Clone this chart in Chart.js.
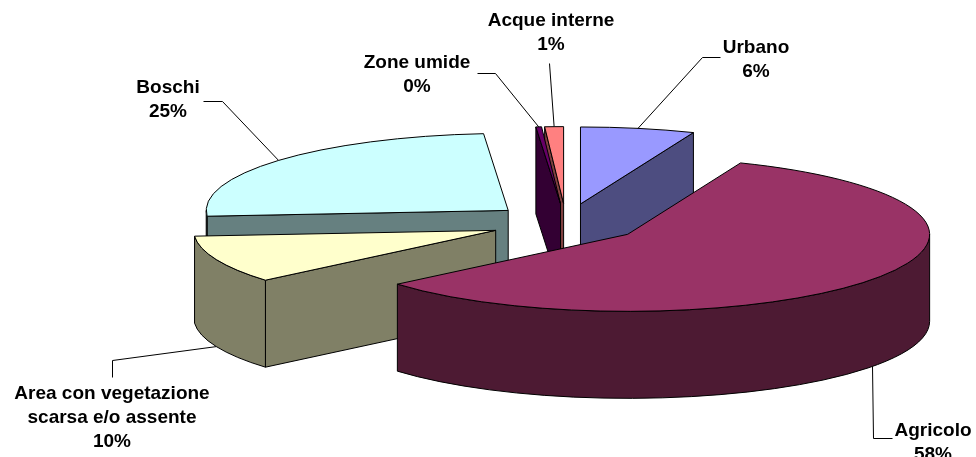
<!DOCTYPE html>
<html>
<head>
<meta charset="utf-8">
<script src="https://cdn.jsdelivr.net/npm/chart.js@4.4.1/dist/chart.umd.min.js"></script>
<style>
  html, body { margin: 0; padding: 0; background: #ffffff; }
  canvas { display: block; }
</style>
</head>
<body>
<canvas id="chart" width="976" height="457"></canvas>
<script>
// Land use shares (%)
const categories = ['Urbano', 'Agricolo', ['Area con vegetazione', 'scarsa e/o assente'], 'Boschi', 'Zone umide', 'Acque interne'];
const shares = [6.1, 57.7, 10.0, 24.9, 0.3, 1.0];
const topColors = ['#9999FF', '#993366', '#FFFFCC', '#CCFFFF', '#660066', '#FF8080'];
const sideColors = ['#4D4D80', '#4D1A33', '#808066', '#668080', '#330033', '#804040'];

// Projection of the pie into a tilted, extruded disc (pixels)
const view = { radiusX: 302, radiusY: 77, depth: 87, explode: 76 };

// Label text position and the leader path from the label toward the slice
const labelLayout = [
  { x: 756, y: 48,  leader: [[720, 57], [702, 57]] },
  { x: 933, y: 431, leader: [[892, 438], [873, 438]] },
  { x: 112, y: 394, leader: [[112, 377], [112, 360]] },
  { x: 168, y: 88,  leader: [[203, 101], [222, 101]] },
  { x: 417, y: 63,  leader: [[477, 73], [495, 73]] },
  { x: 551, y: 21,  leader: [[549, 63]] }
];
const lineHeight = 24;
const labelFont = 'bold 19px "Liberation Sans", Arial, sans-serif';

function sliceGeometry(arc) {
  const p = arc.getProps(['x', 'y', 'startAngle', 'endAngle', 'outerRadius'], true);
  const k = view.radiusY / view.radiusX;
  const mid = (p.startAngle + p.endAngle) / 2;
  return {
    cx: p.x + view.explode * Math.cos(mid),
    cy: p.y + view.explode * k * Math.sin(mid),
    rx: view.radiusX,
    ry: view.radiusY,
    a0: p.startAngle,
    a1: p.endAngle,
    mid: mid
  };
}

function drawSlice(ctx, g, top, side) {
  const H = view.depth;
  ctx.lineWidth = 1;
  ctx.strokeStyle = '#000000';
  ctx.lineJoin = 'round';

  const cutFace = (a) => {
    const px = g.cx + g.rx * Math.cos(a);
    const py = g.cy + g.ry * Math.sin(a);
    ctx.beginPath();
    ctx.moveTo(g.cx, g.cy);
    ctx.lineTo(px, py);
    ctx.lineTo(px, py + H);
    ctx.lineTo(g.cx, g.cy + H);
    ctx.closePath();
    ctx.fillStyle = side;
    ctx.fill();
    ctx.stroke();
  };
  // radial faces turned toward the viewer
  if (Math.cos(g.a0) < -1e-6) cutFace(g.a0);
  if (Math.cos(g.a1) > 1e-6) cutFace(g.a1);

  // outer wall: only the front half of the rim is visible
  for (let k = -1; k <= 1; k++) {
    const lo = Math.max(g.a0, 2 * Math.PI * k);
    const hi = Math.min(g.a1, 2 * Math.PI * k + Math.PI);
    if (hi - lo <= 1e-6) continue;
    ctx.beginPath();
    ctx.ellipse(g.cx, g.cy, g.rx, g.ry, 0, lo, hi, false);
    ctx.lineTo(g.cx + g.rx * Math.cos(hi), g.cy + g.ry * Math.sin(hi) + H);
    ctx.ellipse(g.cx, g.cy + H, g.rx, g.ry, 0, hi, lo, true);
    ctx.closePath();
    ctx.fillStyle = side;
    ctx.fill();
    ctx.stroke();
  }

  // top face
  ctx.beginPath();
  ctx.moveTo(g.cx, g.cy);
  ctx.ellipse(g.cx, g.cy, g.rx, g.ry, 0, g.a0, g.a1, false);
  ctx.closePath();
  ctx.fillStyle = top;
  ctx.fill();
  ctx.stroke();
}

const pie3d = {
  id: 'pie3d',
  beforeDatasetsDraw(chart) {
    const ctx = chart.ctx;
    const meta = chart.getDatasetMeta(0);
    const slices = meta.data.map((arc, i) => ({ i, g: sliceGeometry(arc) }));
    // paint back slices first
    slices.sort((a, b) => a.g.cy - b.g.cy);
    ctx.save();
    slices.forEach(s => drawSlice(ctx, s.g, topColors[s.i], sideColors[s.i]));
    ctx.restore();
    return false;
  },
  afterDraw(chart) {
    const ctx = chart.ctx;
    const meta = chart.getDatasetMeta(0);
    const total = shares.reduce((a, b) => a + b, 0);
    ctx.save();
    meta.data.forEach((arc, i) => {
      const g = sliceGeometry(arc);
      const front = Math.sin(g.mid) > 0;
      const ax = g.cx + g.rx * Math.cos(g.mid);
      const ay = g.cy + g.ry * Math.sin(g.mid) + (front ? view.depth : 0);
      const lay = labelLayout[i];

      ctx.beginPath();
      ctx.moveTo(lay.leader[0][0] + 0.5, lay.leader[0][1] + 0.5);
      for (let j = 1; j < lay.leader.length; j++) ctx.lineTo(lay.leader[j][0] + 0.5, lay.leader[j][1] + 0.5);
      ctx.lineTo(ax, ay);
      ctx.lineWidth = 1;
      ctx.strokeStyle = '#000000';
      ctx.stroke();

      const name = categories[i];
      const lines = (Array.isArray(name) ? name.slice() : [name]);
      lines.push(Math.round(shares[i] / total * 100) + '%');
      ctx.font = labelFont;
      ctx.fillStyle = '#000000';
      ctx.textAlign = 'center';
      ctx.textBaseline = 'middle';
      lines.forEach((t, j) => ctx.fillText(t, lay.x, lay.y + j * lineHeight));
    });
    ctx.restore();
  }
};

new Chart(document.getElementById('chart'), {
  type: 'pie',
  data: {
    labels: categories,
    datasets: [{
      data: shares,
      backgroundColor: topColors,
      borderWidth: 0,
      hoverOffset: 0
    }]
  },
  options: {
    responsive: false,
    animation: false,
    devicePixelRatio: 1,
    layout: { padding: { left: 156, right: 0, top: 0, bottom: 11 } },
    plugins: {
      legend: { display: false },
      tooltip: { enabled: false }
    },
    events: []
  },
  plugins: [pie3d]
});
</script>
</body>
</html>
